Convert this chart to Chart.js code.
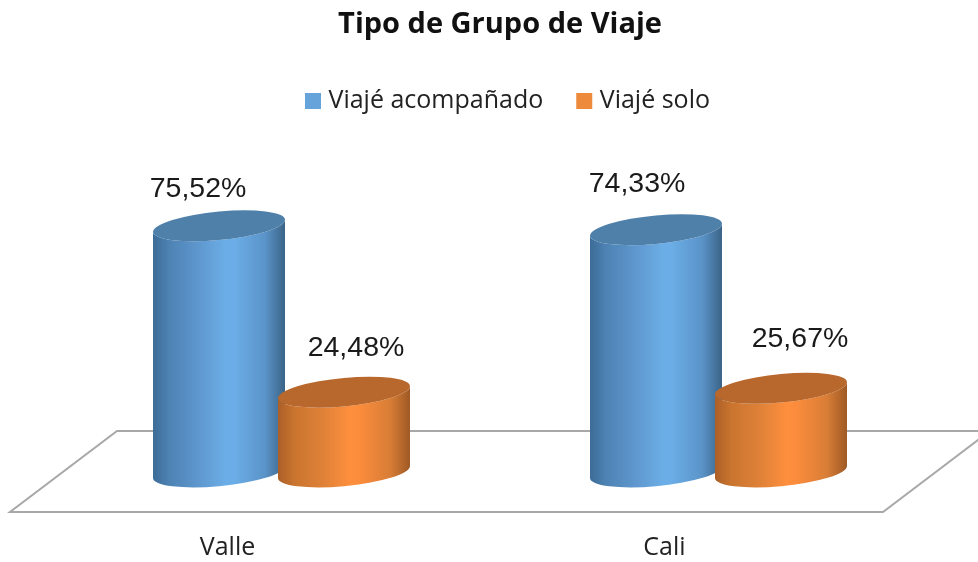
<!DOCTYPE html>
<html>
<head>
<meta charset="utf-8">
<script src="https://cdn.jsdelivr.net/npm/chart.js@4/dist/chart.umd.min.js"></script>
<style>
html,body{margin:0;padding:0;background:#fff;overflow:hidden}
#wrap{width:978px;height:562px;position:relative}
canvas{filter:blur(0.5px)}
</style>
</head>
<body>
<div id="wrap"><canvas id="c"></canvas></div>
<script>
const categories = ['Valle', 'Cali'];
const seriesNames = ['Viajé acompañado', 'Viajé solo'];
const acompanado = [75.52, 74.33];
const solo = [24.48, 25.67];

// nudges of the hand-placed value labels, per series then category
const labelNudge = [
  [[-21, -37], [-19, -46]],
  [[12, -44], [19, -49]]
];
const palettes = [
  {legend:'#66a3db', top:'#4f80aa', stops:['#3c6c97','#4d82b3','#5f98cf','#6bade6','#6bade6','#5a93c8','#3b6487']},
  {legend:'#ee8a3c', top:'#b8682c', stops:['#ab5f27','#c9742f','#e08238','#ff8f3d','#fb8c3c','#d87d36','#9f5925']}
];
const gradStops = [0, 0.12, 0.35, 0.55, 0.62, 0.85, 1];
const TILT = -0.091;   // shear of the cylinder caps
const FLAT = 0.108;    // minor semi-axis / bar width

function cylinder(ctx, bar, pal) {
  const w = bar.width, cx = bar.x, topY = bar.y, baseY = bar.base;
  const a = w / 2, b = w * FLAT;
  const g = ctx.createLinearGradient(cx - a, 0, cx + a, 0);
  gradStops.forEach((s, i) => g.addColorStop(s, pal.stops[i]));
  ctx.save();
  ctx.transform(1, TILT, 0, 1, 0, -TILT * cx);
  ctx.beginPath();
  ctx.moveTo(cx - a, topY);
  ctx.lineTo(cx - a, baseY);
  ctx.ellipse(cx, baseY, a, b, 0, Math.PI, 0, true);
  ctx.lineTo(cx + a, topY);
  ctx.ellipse(cx, topY, a, b, 0, 0, Math.PI, false);
  ctx.closePath();
  ctx.fillStyle = g;
  ctx.fill();
  ctx.beginPath();
  ctx.ellipse(cx, topY, a, b, 0, 0, Math.PI * 2);
  ctx.fillStyle = pal.top;
  ctx.fill();
  ctx.restore();
}

const cylinders = {
  id: 'cylinders',
  beforeLayout(chart) {
    // reserve the blank band between the legend and the plot
    const lg = chart.legend;
    if (lg && !lg._wrapped) {
      const fit = lg.fit;
      lg.fit = function () { fit.call(this); this.height += 22.5; };
      lg._wrapped = true;
    }
  },
  beforeDraw(chart) {
    // the reference legend sits slightly right of its automatic slot
    const lg = chart.legend;
    if (lg && !lg._moved) { lg.left += 10; lg.right += 10; lg._moved = true; }
  },
  beforeDatasetsDraw(chart) {
    const ctx = chart.ctx, area = chart.chartArea;
    // floor of the 3D plot
    const fy = area.bottom + 40, by = area.bottom - 41;
    ctx.save();
    ctx.strokeStyle = '#a8a8a8';
    ctx.lineWidth = 2;
    ctx.lineJoin = 'miter';
    ctx.beginPath();
    ctx.moveTo(area.left - 53, fy);
    ctx.lineTo(area.right - 54, fy);
    ctx.lineTo(area.right + 53, by);
    ctx.lineTo(area.left + 54, by);
    ctx.closePath();
    ctx.stroke();
    chart.data.datasets.forEach((ds, i) => {
      chart.getDatasetMeta(i).data.forEach(bar => cylinder(ctx, bar, palettes[i]));
    });
    ctx.restore();
  },
  beforeDatasetDraw() { return false; },
  afterDatasetsDraw(chart) {
    const ctx = chart.ctx;
    ctx.save();
    ctx.font = '28.5px "Liberation Sans"';
    ctx.fillStyle = '#1a1a1a';
    ctx.textAlign = 'center';
    ctx.textBaseline = 'middle';
    chart.data.datasets.forEach((ds, i) => {
      chart.getDatasetMeta(i).data.forEach((bar, j) => {
        const t = ds.data[j].toFixed(2).replace('.', ',') + '%';
        ctx.fillText(t, bar.x + labelNudge[i][j][0], bar.y + labelNudge[i][j][1]);
      });
    });
    ctx.restore();
  }
};

new Chart(document.getElementById('c'), {
  type: 'bar',
  data: {
    labels: categories,
    datasets: [
      {label: seriesNames[0], data: acompanado, backgroundColor: palettes[0].legend, borderColor: palettes[0].legend, borderWidth: 10},
      {label: seriesNames[1], data: solo, backgroundColor: palettes[1].legend, borderColor: palettes[1].legend, borderWidth: 10}
    ]
  },
  options: {
    responsive: true,
    maintainAspectRatio: false,
    animation: false,
    events: [],
    categoryPercentage: 0.572,
    barPercentage: 1.056,
    layout: {padding: {left: 63, right: 41, top: 6, bottom: 0}},
    plugins: {
      tooltip: {enabled: false},
      title: {
        display: true,
        text: 'Tipo de Grupo de Viaje',
        color: '#111',
        font: {family: '"Open Sans"', size: 29, weight: 'bold'},
        padding: {top: 1.5, bottom: 8.2}
      },
      legend: {
        display: true,
        position: 'top',
        labels: {
          color: '#222',
          font: {family: '"Open Sans"', size: 25},
          boxWidth: 6,
          boxHeight: 6,
          padding: 38
        }
      }
    },
    scales: {
      x: {
        grid: {display: false},
        border: {display: false},
        afterFit(scale) { scale.height = 90; },
        ticks: {
          color: '#222',
          font: {family: '"Open Sans"', size: 25},
          labelOffset: -54,
          padding: 53,
          maxRotation: 0,
          autoSkip: false
        }
      },
      y: {
        display: false,
        min: 0,
        max: 100
      }
    }
  },
  plugins: [cylinders]
});
</script>
</body>
</html>
